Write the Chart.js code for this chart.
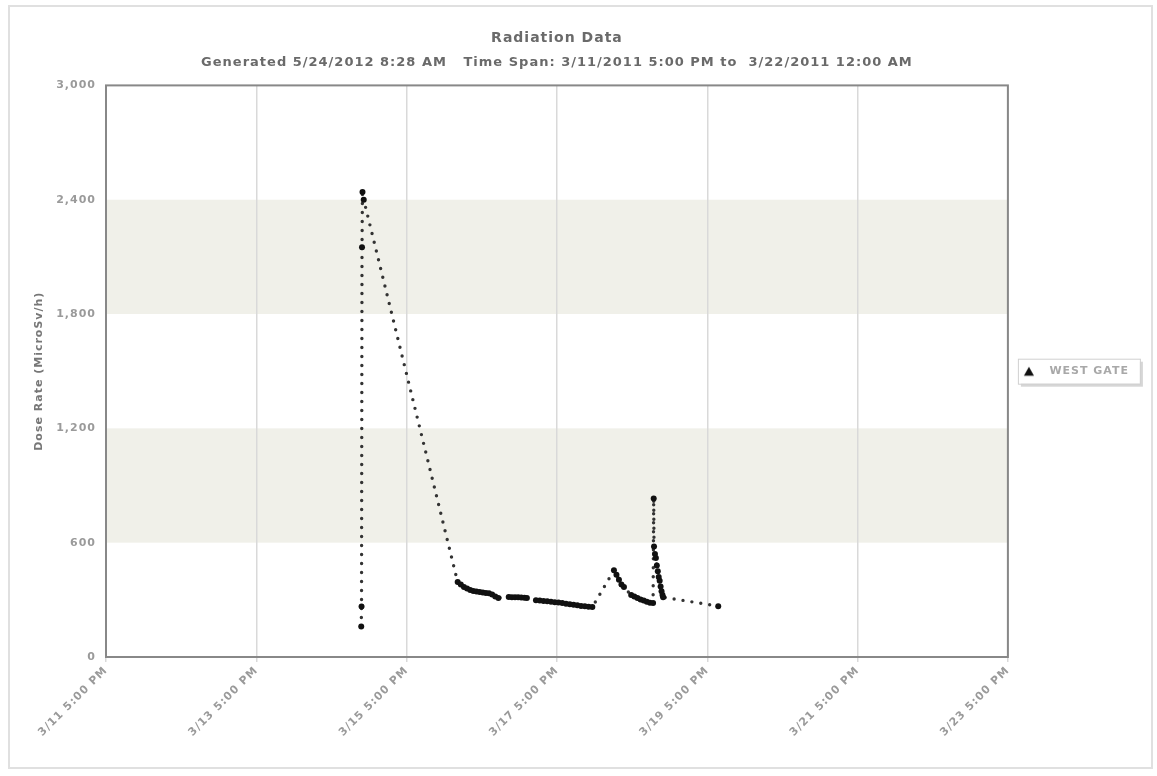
<!DOCTYPE html>
<html><head><meta charset="utf-8">
<script src="https://cdn.jsdelivr.net/npm/chart.js@4.4.1/dist/chart.umd.min.js"></script>
<style>html,body{margin:0;padding:0;background:#fff;}#wrap{width:1157px;height:776px;}</style>
</head><body><div id="wrap"><canvas id="c" width="1157" height="776"></canvas></div>
<script>
const chartTitle = 'Radiation Data';
const chartSubtitle = 'Generated 5/24/2012 8:28 AM   Time Span: 3/11/2011 5:00 PM to  3/22/2011 12:00 AM';
const yAxisTitle = 'Dose Rate (MicroSv/h)';
const seriesName = 'WEST GATE';
// hours since 3/11 5:00 PM
const hoursSinceStart = [
  81.5, 81.6, 81.75, 81.9, 82.3,
  112.3, 113.3, 114.3, 115.3, 116.3, 117.3, 118.3, 119.3, 120.3, 121.3, 122.3, 123.3, 124.3, 125.3,
  128.6, 129.6, 130.6, 131.6, 132.6, 133.6, 134.4,
  137.3, 138.5, 139.7, 140.9, 142.1, 143.3, 144.5, 145.7, 146.9, 148.1, 149.3, 150.5, 151.7, 152.9, 154.1, 155.3,
  162.2, 163.0, 163.8, 164.6, 165.4,
  167.7, 168.7, 169.7, 170.7, 171.7, 172.7, 173.7, 174.7,
  174.9, 175.0, 175.3, 175.6, 175.9, 176.2, 176.5, 176.8, 177.1, 177.4, 177.7, 177.9,
  195.5
];
const doseRate = [
  160, 265, 2150, 2440, 2400,
  393, 380, 368, 359, 352, 347, 344, 341, 338, 336, 334, 328, 318, 310,
  315, 314, 313, 313, 312, 311, 310,
  298, 296, 294, 292, 290, 288, 286, 283, 280, 277, 274, 271, 268, 266, 264, 262,
  455, 432, 405, 380, 367,
  325, 318, 310, 302, 296, 290, 285, 283,
  832, 580, 540, 520, 480, 450, 420, 400, 370, 345, 325, 314,
  267
];
const xTickLabels = ['3/11 5:00 PM', '3/13 5:00 PM', '3/15 5:00 PM', '3/17 5:00 PM', '3/19 5:00 PM', '3/21 5:00 PM', '3/23 5:00 PM'];
const yTickLabels = ['0', '600', '1,200', '1,800', '2,400', '3,000'];
const bandRanges = [[600, 1200], [1800, 2400]];

Chart.defaults.font.family = '"DejaVu Sans", Verdana, sans-serif';

const points = hoursSinceStart.map((h, i) => ({x: h, y: doseRate[i]}));

// legend marker: triangle inside a wider transparent box
const legendMarker = document.createElement('canvas');
legendMarker.width = 32; legendMarker.height = 12;
(function () {
  const g = legendMarker.getContext('2d');
  g.fillStyle = '#111';
  g.beginPath();
  g.moveTo(17, 1.5);
  g.lineTo(22, 10.5);
  g.lineTo(12, 10.5);
  g.closePath();
  g.fill();
})();

const decor = {
  id: 'decor',
  beforeLayout(chart) { chart.ctx.letterSpacing = '1px'; },
  beforeDraw(chart) {
    const ctx = chart.ctx;
    ctx.letterSpacing = '1px';
    const a = chart.chartArea, y = chart.scales.y;
    ctx.save();
    ctx.fillStyle = '#fff';
    ctx.fillRect(0, 0, chart.width, chart.height);
    ctx.strokeStyle = '#e0e0e0';
    ctx.lineWidth = 2;
    ctx.strokeRect(9, 6, 1143, 762);
    ctx.fillStyle = '#f0f0e9';
    bandRanges.forEach(([lo, hi]) => {
      const t = y.getPixelForValue(hi), b = y.getPixelForValue(lo);
      ctx.fillRect(a.left, t, a.right - a.left, b - t);
    });
    const hb = chart.legend && chart.legend.legendHitBoxes && chart.legend.legendHitBoxes[0];
    if (hb) {
      const L = hb.left + 6, T = hb.top - 7, W = 122, H = hb.height + 14;
      ctx.fillStyle = '#d6d6d6';
      ctx.fillRect(L + 3, T + 3, W, H);
      ctx.fillStyle = '#fff';
      ctx.fillRect(L, T, W, H);
      ctx.strokeStyle = '#d0d0d0';
      ctx.lineWidth = 1;
      ctx.strokeRect(L + 0.5, T + 0.5, W, H);
    }
    ctx.restore();
  },
  afterDatasetsDraw(chart) {
    const ctx = chart.ctx, a = chart.chartArea;
    ctx.save();
    ctx.strokeStyle = '#888';
    ctx.lineWidth = 2;
    ctx.strokeRect(a.left, a.top, a.right - a.left, a.bottom - a.top);
    ctx.restore();
  }
};

new Chart(document.getElementById('c'), {
  type: 'line',
  data: {
    datasets: [{
      label: seriesName,
      data: points,
      borderColor: '#333',
      borderWidth: 3.4,
      borderDash: [0, 9],
      borderCapStyle: 'round',
      pointStyle: 'circle',
      pointRadius: 3,
      pointBorderWidth: 0,
      pointBackgroundColor: '#111',
      pointHoverRadius: 3,
      tension: 0
    }]
  },
  options: {
    responsive: false,
    animation: false,
    layout: {padding: {top: 26, left: 33, right: 18, bottom: 8}},
    plugins: {
      title: {
        display: true, text: chartTitle, color: '#6a6a6a', fullSize: false,
        font: {size: 14, weight: 'bold'}, padding: {top: 4, bottom: 4}
      },
      subtitle: {
        display: true, text: chartSubtitle, color: '#6a6a6a', fullSize: false,
        font: {size: 13, weight: 'bold'}, padding: {top: 4, bottom: 15}
      },
      legend: {
        position: 'right', fullSize: false,
        labels: {
          usePointStyle: true, pointStyle: legendMarker, boxHeight: 9, pointStyleWidth: 32,
          color: '#a8a8a8', font: {size: 11, weight: 'bold'}, padding: 4
        }
      },
      tooltip: {enabled: false}
    },
    scales: {
      x: {
        type: 'linear', min: 0, max: 288,
        afterFit(s) { s.height = 111; },
        afterBuildTicks(s) { s.ticks = xTickLabels.map((_, i) => ({value: i * 48})); },
        ticks: {
          stepSize: 48, autoSkip: false, maxRotation: 45, minRotation: 45, padding: 2,
          color: '#9a9a9a', font: {size: 11, weight: 'bold'},
          callback: (v, i) => xTickLabels[i]
        },
        grid: {color: '#d9d9d9', lineWidth: 1.5, drawTicks: true, tickLength: 5},
        border: {display: false}
      },
      y: {
        min: 0, max: 3000,
        afterFit(s) { s.width = 73; },
        afterBuildTicks(s) { s.ticks = yTickLabels.map((_, i) => ({value: i * 600})); },
        ticks: {
          stepSize: 600, color: '#9a9a9a', font: {size: 11, weight: 'bold'}, padding: 2,
          callback: (v, i) => yTickLabels[i]
        },
        grid: {display: false},
        border: {display: false},
        title: {display: true, text: yAxisTitle, color: '#777', font: {size: 11, weight: 'bold'}, padding: 0}
      }
    }
  },
  plugins: [decor]
});
</script></body></html>
